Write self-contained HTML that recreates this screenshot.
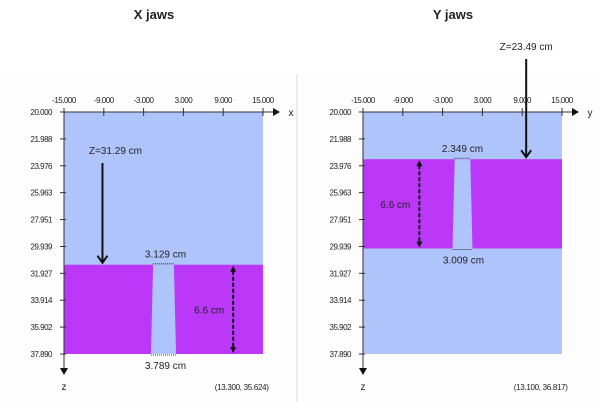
<!DOCTYPE html>
<html><head><meta charset="utf-8"><style>
body{margin:0;width:600px;height:402px;background:#fff;overflow:hidden;font-family:"Liberation Sans",sans-serif}
svg{display:block}
</style></head><body>
<svg id="c" width="600" height="402" xmlns="http://www.w3.org/2000/svg"></svg>
<script>
const xTicks=[-15,-9,-3,3,9,15];
const zTicks=[20.000,21.988,23.976,25.963,27.951,29.939,31.927,33.914,35.902,37.890];
const panelTitles=["X jaws","Y jaws"];
const axisLetters=["x","y"];
const jawTop=[31.29,23.49];
const jawThick=[6.6,6.6];
const apTop=[3.129,2.349];
const apBottom=[3.789,3.009];
const coordText=["(13.300, 35.624)","(13.100, 36.817)"];
const arrowX=[-9.2,9.6];
const dimArrowX=[10.5,-6.5];
const panelLeft=[64,363];
const NS="http://www.w3.org/2000/svg";
const svg=document.getElementById('c');
function el(t,a,p){const e=document.createElementNS(NS,t);for(const k in a)e.setAttribute(k,a[k]);(p||svg).appendChild(e);return e;}
function tx(x,y,s,size,anchor,extra){const e=el('text',Object.assign({x:x,y:y,'font-size':size,'text-anchor':anchor||'middle',fill:'#222'},extra||{}));e.textContent=s;return e;}
const zMin=20,zMax=37.89,yTop=112,yBot=354,pw=199;
function Y(z){return yTop+(z-zMin)/(zMax-zMin)*(yBot-yTop);}
el('defs',{}).innerHTML='<marker id="ah" markerWidth="8" markerHeight="8" refX="6" refY="4" orient="auto"><path d="M0,0 L7,4 L0,8 z" fill="#111"/></marker>';
const sep=el('rect',{x:296,y:74,width:2,height:328,fill:'#ececf0'});


for(let p=0;p<2;p++){
  const L=panelLeft[p];
  const X=v=>L+(v+15)/30*pw;
  const g=el('g',{});
  
  
  el('rect',{x:p?299:0,y:74,width:p?301:296,height:328,fill:'#fdfdfd'},g);
  const t=tx(L+90,19,panelTitles[p],13,'middle',{'font-weight':'bold'});
  
  el('rect',{x:X(-15),y:yTop,width:pw,height:yBot-yTop,fill:'#b0c4fc'},g);
  const jt=Y(jawTop[p]),jb=Y(jawTop[p]+jawThick[p]);
  const jaw=el('rect',{x:X(-15),y:jt,width:pw,height:jb-jt,fill:'#bb38f8'},g);
  
  const a=apTop[p]/2,b=apBottom[p]/2;
  const ap=el('polygon',{points:`${X(-a)},${jt} ${X(a)},${jt} ${X(b)},${jb} ${X(-b)},${jb}`,fill:'#b0c4fc'},g);
  
  el('line',{x1:X(-15),y1:yTop,x2:X(15)+16,y2:yTop,stroke:'#333','marker-end':'url(#ah)'},g);
  el('line',{x1:X(-15),y1:yTop,x2:X(-15),y2:yBot+20,stroke:'#333','marker-end':'url(#ah)'},g);
  tx(X(15)+28,116,axisLetters[p],10);
  tx(X(-15),390,'z',10);
  xTicks.forEach(v=>{el('line',{x1:X(v),y1:yTop-4,x2:X(v),y2:yTop+4,stroke:'#333'},g);tx(X(v),103,v.toFixed(3),8,'middle',{'letter-spacing':'-0.5'});});
  zTicks.forEach(v=>{el('line',{x1:X(-15)-4,y1:Y(v),x2:X(-15)+2,y2:Y(v),stroke:'#333'},g);tx(X(-15)-12,Y(v)+3,v.toFixed(3),8,'end',{'letter-spacing':'-0.5'});});
  tx(X(13.3)-10,390,coordText[p],8,'middle',{'letter-spacing':'-0.3'});
  el('line',{x1:X(-a),y1:jt-1,x2:X(a),y2:jt-1,stroke:'#333','stroke-dasharray':'1,1'},g);
  el('line',{x1:X(-b),y1:jb+1,x2:X(b),y2:jb+1,stroke:'#333','stroke-dasharray':'1,1'},g);
  tx(X(0)+(p?0:2),jt-7,apTop[p].toFixed(3)+' cm',10);
  tx(X(0)+(p?1:2),jb+15,apBottom[p].toFixed(3)+' cm',10);
  const dx=X(dimArrowX[p]);
  el('line',{x1:dx,y1:jt+6,x2:dx,y2:jb-6,stroke:'#111','stroke-width':2,'stroke-dasharray':'4,2'},g);
  el('polygon',{points:`${dx-3},${jt+7} ${dx+3},${jt+7} ${dx},${jt+1}`,fill:'#111'},g);
  el('polygon',{points:`${dx-3},${jb-7} ${dx+3},${jb-7} ${dx},${jb-1}`,fill:'#111'},g);
  tx(dx-24,(jt+jb)/2+4,jawThick[p]+' cm',10);
  const ax=X(arrowX[p]);
  const y0=p?59:163;
  el('line',{x1:ax,y1:y0,x2:ax,y2:jt-3,stroke:'#111','stroke-width':2},g);
  el('path',{d:`M${ax-5},${jt-9} L${ax},${jt-2} L${ax+5},${jt-9}`,stroke:'#111','stroke-width':2,fill:'none'},g);
  tx(p?ax:ax+13,p?50:154,'Z='+jawTop[p]+' cm',10);
}
</script>
</body></html>
